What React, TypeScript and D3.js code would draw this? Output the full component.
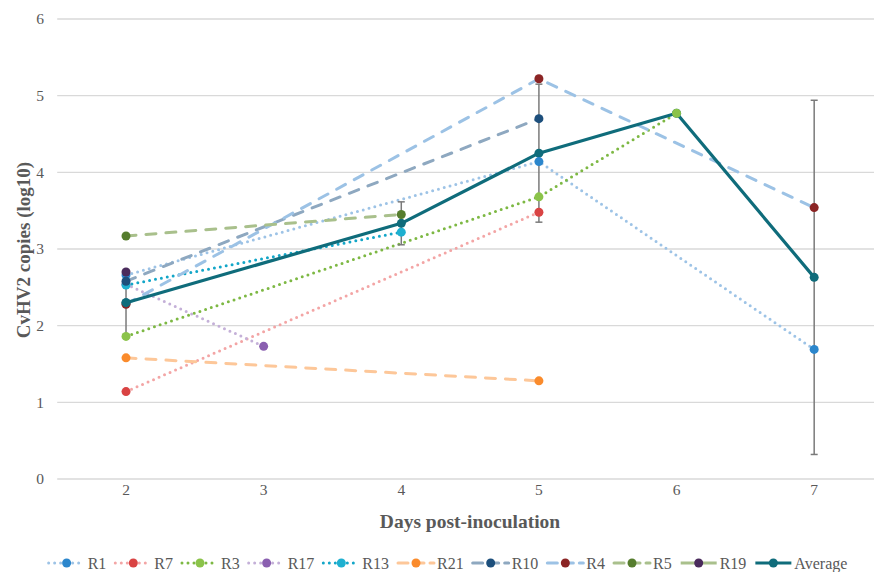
import React, { useEffect, useRef } from "react";
import * as d3 from "d3";

const days = [2, 3, 4, 5, 6, 7];
const dayLabels = ["2", "3", "4", "5", "6", "7"];
const yTicks = [0, 1, 2, 3, 4, 5, 6];

const seriesNames = ["R1", "R7", "R3", "R17", "R13", "R21", "R10", "R4", "R5", "R19"];
const r1 = [2.66, null, null, 4.14, null, 1.69];
const r7 = [1.14, null, null, 3.48, null, null];
const r3 = [1.86, null, null, 3.68, 4.77, null];
const r17 = [2.54, 1.73, null, null, null, null];
const r13 = [2.53, null, 3.22, null, null, null];
const r21 = [1.58, null, null, 1.28, null, null];
const r10 = [2.58, null, null, 4.7, null, null];
const r4 = [2.28, null, null, 5.22, null, 3.54];
const r5 = [3.17, null, 3.45, null, null, null];
const r19 = [2.7, null, null, null, null, null];
const average = [2.3, null, 3.335, 4.25, 4.77, 2.63];
const averageErr = [0.42, null, 0.28, 0.9, 0, 2.31];

const lineColors = ["#9dc3e6", "#f3a5a5", "#7db843", "#c4b0d8", "#12a6c8", "#fdc799", "#8ea8c0", "#9cc2e5", "#a9c08c", "#a9c08c"];
const markerColors = ["#2b86cc", "#d94343", "#8bc34a", "#8a5fb0", "#1fb0d0", "#fa8b2c", "#1d4f7c", "#8b2424", "#567d2e", "#4a2b5c"];
const lineStyles = ["dot", "dot", "dot", "dot", "dot", "dash", "dash", "dash", "dash", "solid"];
const avgColor = "#0f6c7b";

const seriesValues = [r1, r7, r3, r17, r13, r21, r10, r4, r5, r19];

export default function App() {
  const ref = useRef<SVGSVGElement | null>(null);

  useEffect(() => {
    const svg = d3.select(ref.current);
    svg.selectAll("*").remove();
    const W = 874, H = 572;
    const x = d3.scaleLinear().domain([1.5, 7.5]).range([57.2, 883]);
    const y = d3.scaleLinear().domain([0, 6]).range([479, 19]);
    const font = "'Liberation Serif', 'Times New Roman', serif";

    svg.append("rect").attr("width", W).attr("height", H).attr("fill", "#fff");

    // gridlines
    svg.append("g").selectAll("line").data(yTicks).join("line")
      .attr("x1", 57.2).attr("x2", W)
      .attr("y1", (d) => y(d)).attr("y2", (d) => y(d))
      .attr("stroke", "#d9d9d9").attr("stroke-width", 1.3);

    // y tick labels
    svg.append("g").selectAll("text").data(yTicks).join("text")
      .attr("x", 44).attr("y", (d) => y(d)).attr("dy", "0.35em")
      .attr("text-anchor", "end").attr("font-family", font).attr("font-size", 15.5)
      .attr("fill", "#595959").text((d) => String(d));

    // x tick labels
    svg.append("g").selectAll("text").data(days).join("text")
      .attr("x", (d) => x(d)).attr("y", 495)
      .attr("text-anchor", "middle").attr("font-family", font).attr("font-size", 15.5)
      .attr("fill", "#595959").text((d, i) => dayLabels[i]);

    // axis titles
    svg.append("text").attr("x", 470).attr("y", 528).attr("text-anchor", "middle")
      .attr("font-family", font).attr("font-size", 19.5).attr("font-weight", "bold")
      .attr("fill", "#595959").text("Days post-inoculation");
    svg.append("text").attr("transform", "translate(30,250) rotate(-90)").attr("text-anchor", "middle")
      .attr("font-family", font).attr("font-size", 19).attr("font-weight", "bold")
      .attr("fill", "#595959").text("CvHV2 copies (log10)");

    const dashFor = (s: string) => (s === "dot" ? "0 6" : s === "dash" ? "10 10" : null);

    const lineGen = d3.line<{ d: number; v: number }>().x((p) => x(p.d)).y((p) => y(p.v));
    const pts = (vals: (number | null)[]) =>
      days.map((d, i) => ({ d, v: vals[i] })).filter((p) => p.v !== null) as { d: number; v: number }[];

    const gLines = svg.append("g");
    seriesValues.forEach((vals, i) => {
      const p = pts(vals);
      if (p.length < 2) return;
      gLines.append("path").attr("d", lineGen(p)).attr("fill", "none")
        .attr("stroke", lineColors[i]).attr("stroke-width", 3)
        .attr("stroke-linecap", "round")
        .attr("stroke-dasharray", dashFor(lineStyles[i]));
    });
    gLines.append("path").attr("d", lineGen(pts(average))).attr("fill", "none")
      .attr("stroke", avgColor).attr("stroke-width", 3.2).attr("stroke-linejoin", "round");

    // error bars
    const eb = days.map((d, i) => ({ d, v: average[i], e: averageErr[i] }))
      .filter((p) => p.v !== null && p.e !== null && (p.e as number) > 0) as { d: number; v: number; e: number }[];
    const gE = svg.append("g").attr("stroke", "#7a7a7a").attr("stroke-width", 1.5);
    eb.forEach((p) => {
      gE.append("line").attr("x1", x(p.d)).attr("x2", x(p.d)).attr("y1", y(p.v + p.e)).attr("y2", y(p.v - p.e));
      [p.v + p.e, p.v - p.e].forEach((v) => {
        gE.append("line").attr("x1", x(p.d) - 3.5).attr("x2", x(p.d) + 3.5).attr("y1", y(v)).attr("y2", y(v));
      });
    });

    // markers
    const gM = svg.append("g");
    gM.selectAll("circle.avg").data(pts(average)).join("circle").attr("class", "avg")
      .attr("cx", (p) => x(p.d)).attr("cy", (p) => y(p.v)).attr("r", 4.5).attr("fill", avgColor);
    seriesValues.forEach((vals, i) => {
      gM.append("g").selectAll("circle").data(pts(vals)).join("circle")
        .attr("cx", (p) => x(p.d)).attr("cy", (p) => y(p.v)).attr("r", 4.5).attr("fill", markerColors[i]);
    });
    // average marker at day 2 on top (matches reference)
    gM.append("circle").attr("cx", x(days[0])).attr("cy", y(average[0] as number)).attr("r", 4.5).attr("fill", avgColor);

    // legend
    const names = [...seriesNames, "Average"];
    const lColors = [...lineColors, avgColor];
    const mColors = [...markerColors, avgColor];
    const lStyles = [...lineStyles, "solid"];
    const lg = svg.append("g");
    const ly = 563;
    const sampleW = 36;
    const items: { w: number; g: any }[] = [];
    names.forEach((n, i) => {
      const g = lg.append("g");
      g.append("line").attr("x1", 0).attr("x2", sampleW).attr("y1", 0).attr("y2", 0)
        .attr("stroke", lColors[i]).attr("stroke-width", i === names.length - 1 ? 3.2 : 3)
        .attr("stroke-linecap", lStyles[i] === "solid" ? "butt" : "round")
        .attr("stroke-dasharray", lStyles[i] === "dot" ? "0 6" : lStyles[i] === "dash" ? "10 6" : null);
      g.append("circle").attr("cx", sampleW / 2).attr("cy", 0).attr("r", 4.5).attr("fill", mColors[i]);
      const t = g.append("text").attr("x", sampleW + 3).attr("dy", "0.35em")
        .attr("font-family", font).attr("font-size", 16).attr("fill", "#595959").text(n);
      const tw = (t.node() as SVGTextElement).getComputedTextLength();
      items.push({ w: sampleW + 3 + tw, g });
    });
    const gap = 9;
    const total = d3.sum(items, (d) => d.w) + gap * (items.length - 1);
    let cx = 448 - total / 2;
    items.forEach((it) => {
      it.g.attr("transform", `translate(${cx},${ly})`);
      cx += it.w + gap;
    });
  }, []);

  return (
    <svg ref={ref} width={874} height={572} style={{ position: "absolute", left: 0, top: 0 }} />
  );
}
